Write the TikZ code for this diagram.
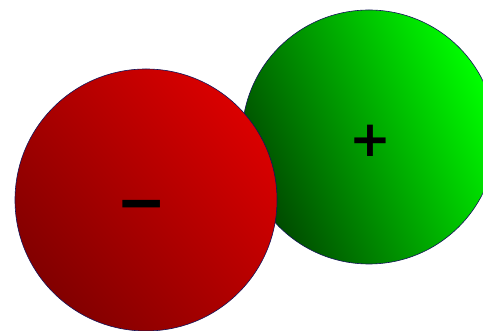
\documentclass[tikz,border=0pt]{standalone}
\usepackage{fontspec}
\newfontfamily\signfont{DejaVu Sans}[BoldFont={DejaVu Sans Bold}]
\definecolor{redbright}{RGB}{218,0,0}
\definecolor{redmid}{RGB}{170,0,0}
\definecolor{reddark}{RGB}{130,0,0}
\definecolor{greenbright}{RGB}{0,255,0}
\definecolor{greenmid}{RGB}{0,130,0}
\definecolor{greendark}{RGB}{0,70,0}
\definecolor{rimcol}{RGB}{20,20,90}
\tikzset{
  ball/.style={draw=rimcol, line width=0.6pt},
  sign/.style={font=\signfont\bfseries\fontsize{50}{50}\selectfont, text=black, inner sep=0pt}
}
\begin{document}
\begin{tikzpicture}[x=1pt,y=1pt]
\useasboundingbox (0,0) rectangle (483,331);
\clip (0,0) rectangle (483,331);
\fill[white] (0,0) rectangle (483,331);
% green ball (behind)
\path[ball, top color=greenbright, middle color=greenmid, bottom color=greendark, shading angle=-65]
  (369,194) circle (127);
\node[sign] (plus) at (370,190) {+};
% red ball (front)
\path[ball, top color=redbright, middle color=redmid, bottom color=reddark, shading angle=-50]
  (146,131) circle (131);
\node[sign] (minus) at (141.5,119) {\scalebox{1.2}[1.3]{−}};
\end{tikzpicture}
\end{document}
